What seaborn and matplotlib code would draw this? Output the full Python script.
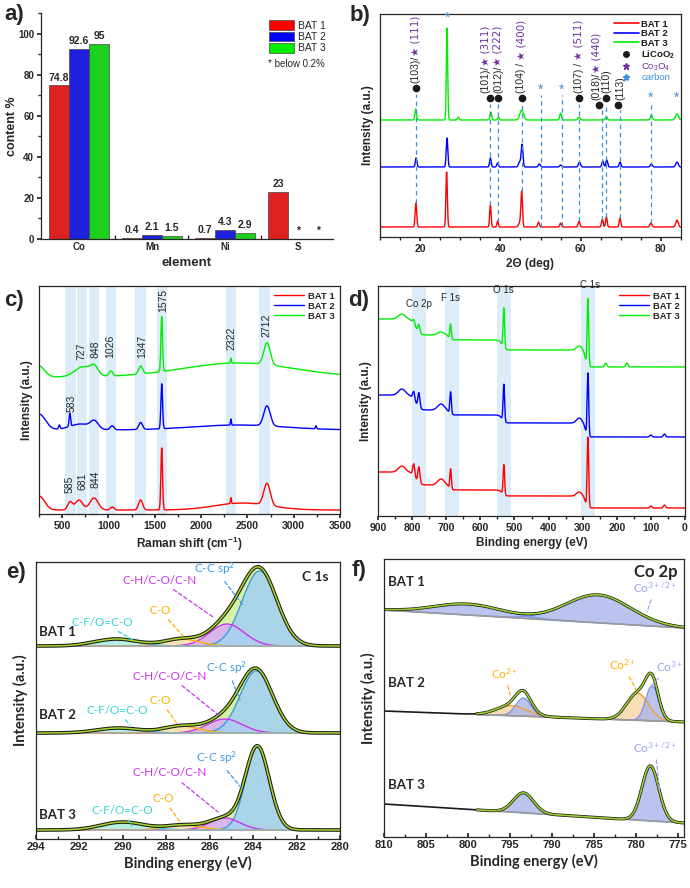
import numpy as np
import pandas as pd
import matplotlib
matplotlib.use('Agg')
import matplotlib.pyplot as plt
import seaborn as sns
from matplotlib.lines import Line2D
from matplotlib.patches import Patch
from matplotlib.ticker import MultipleLocator

# ---------------- data ----------------
samples = ['BAT 1', 'BAT 2', 'BAT 3']
elements = ['Co', 'Mn', 'Ni', 'S']
bat1_content = [74.8, 0.4, 0.7, 23]
bat2_content = [92.6, 2.1, 4.3, 0]
bat3_content = [95, 1.5, 2.9, 0]
bat1_labels = ['74.8', '0.4', '0.7', '23']
bat2_labels = ['92.6', '2.1', '4.3', '*']
bat3_labels = ['95', '1.5', '2.9', '*']

# XRD peaks (2theta, height, width)
xrd_bat1 = [(18.95, 24, .2), (26.6, 55, .18), (37.5, 22, .18), (39.3, 6, .18), (44.8, 4, .3),
            (45.3, 35, .2), (49.5, 5, .2), (55.0, 4, .2), (59.6, 6, .22), (65.4, 8, .2),
            (66.4, 10, .2), (69.8, 9, .2), (77.5, 4, .25), (84.0, 7, .3)]
xrd_bat2 = [(19.0, 9, .2), (26.7, 29, .2), (37.5, 9, .2), (39.3, 4, .2), (44.8, 5, .3),
            (45.4, 22, .22), (49.7, 3, .25), (55.0, 2, .25), (59.7, 5, .25), (65.5, 6, .22),
            (66.5, 7, .22), (69.8, 5, .22), (77.6, 3, .25), (84.0, 5, .3)]
xrd_bat3 = [(18.9, 11, .2), (26.7, 92, .17), (29.5, 3, .2), (37.6, 8, .2), (39.5, 3, .2),
            (45.3, 10, .45), (55.0, 7, .22), (59.6, 3, .25), (66.4, 3, .25), (77.6, 5, .25),
            (84.0, 6, .4)]
xrd_ref_pos = [18.95, 37.5, 39.4, 45.3, 50.0, 55.3, 59.6, 65.3, 66.4, 69.8, 77.6]
xrd_ref_top = [143, 133, 133, 133, 142, 142, 133, 127, 133, 127, 133]
licoo2_pos = [19.0, 37.5, 39.4, 45.3, 59.6, 64.5, 66.3, 69.3]
licoo2_y = [149, 139, 139, 139, 139, 132, 139, 132]
carbon_pos = [26.7, 50.0, 55.2, 77.5, 84.0]
carbon_y = [219, 147, 147, 139, 139]
hkl_pos = [18.9, 36.2, 39.4, 45.2, 59.5, 64.0, 66.3, 69.9]
hkl_y = [154, 144, 144, 144, 144, 137, 144, 137]
hkl_licoo2 = ['(103)/', '(101)/', '(012)/', '(104) / ', '(107) / ', '(018)/', '(110)', '(113)']
hkl_co3o4 = ['\u2605 (111)', '\u2605 (311)', '\u2605 (222)', '\u2605 (400)', '\u2605 (511)',
             '\u2605 (440)', '', '']

# Raman bands (shift, height, width)
raman_bat1 = [(250, 14, 60), (585, 8, 25), (681, 10, 40), (844, 12, 45), (1040, 3, 20),
              (1347, 10, 22), (1575, 62, 9), (2322, 6, 5), (2450, 7, 300), (2712, 22, 35)]
raman_bat2 = [(250, 16, 70), (470, 4, 8), (583, 13, 8), (700, 6, 120), (848, 7, 40),
              (1040, 4, 20), (1347, 7, 20), (1575, 45, 9), (2322, 6, 5), (2400, 5, 500),
              (2712, 20, 35), (3240, 3, 6)]
raman_bat3 = [(250, 11, 60), (727, 10, 90), (848, 8, 40), (1026, 5, 20), (1347, 8, 22),
              (1575, 55, 9), (2322, 5, 5), (2400, 14, 600), (2712, 22, 35)]
raman_bands = [(535, 645), (660, 770), (790, 900), (970, 1080), (1290, 1400),
               (1520, 1630), (2270, 2380), (2630, 2740)]
raman_tags = ['585', '681', '844', '583', '727', '848', '1026', '1347', '1575', '2322', '2712']
raman_tag_x = [585, 722, 855, 603, 711, 855, 1017, 1359, 1586, 2331, 2709]
raman_tag_y = [21, 24, 26, 102, 154, 156, 156, 156, 202, 164, 177]

# XPS survey (BE, height, width) and background steps
survey_bat1 = [(60, 3, 3), (100, 2, 3), (284.5, 70, 2.2), (310, 4, 8), (531, 30, 2.2),
               (687, 20, 2.2), (715, 6, 10), (780, 16, 3), (795, 12, 3), (830, 6, 10)]
survey_bat2 = [(60, 3, 3), (100, 2, 3), (284.5, 63, 2.2), (310, 5, 8), (531, 37, 2.2),
               (687, 22, 2.2), (715, 6, 10), (780, 15, 3), (795, 8, 3), (830, 6, 10)]
survey_bat3 = [(170, 4, 3), (232, 4, 3), (284.5, 67, 2.2), (310, 4, 8), (531, 40, 2.2),
               (687, 15, 2.2), (715, 3, 10), (780, 8, 3), (795, 4, 3), (830, 5, 10)]
steps_bat1 = [(292, 12, 3), (536, 6, 4), (692, 5, 4), (790, 13, 6)]
steps_bat2 = [(292, 14, 3), (536, 8, 4), (692, 5, 4), (790, 15, 6)]
steps_bat3 = [(292, 17, 3), (536, 10, 4), (692, 5, 4), (790, 16, 6)]
survey_bands = [(759, 800), (663, 704), (510, 551), (264, 305)]
survey_tags = ['Co 2p', 'F 1s', 'O 1s', 'C 1s']
survey_tag_x = [780, 686, 533, 278]
survey_tag_y = [207, 213, 221, 226]

# C 1s fit: C-C sp2, C-H/C-O/C-N, C-O, C-F/O=C-O
c1s_names = ['C-C sp$^2$', 'C-H/C-O/C-N', 'C-O', 'C-F/O=C-O']
c1s_bat1 = [(283.7, 75, .8), (285.2, 22, .8), (287.3, 7, .8), (290.3, 7, 1.0)]
c1s_bat2 = [(283.85, 62, .75), (285.3, 14, .8), (287.3, 7, .8), (290.2, 5, 1.0)]
c1s_bat3 = [(283.8, 83, .55), (285.3, 12, .7), (287.2, 5, .8), (290.0, 8, 1.0)]

# Co 2p fit: (BE, height, width, species)
co2p_bat1 = [(800.0, 11, 4.0, 'mix'), (784.5, 28, 3.8, 'mix')]
co2p_bat2 = [(794.8, 10, 1.8, 'Co2'), (793.4, 18, .9, 'Co3'), (779.8, 27, 1.3, 'Co2'),
             (778.1, 35, .75, 'Co3')]
co2p_bat3 = [(793.4, 20, 1.2, 'mix'), (778.3, 55, 1.0, 'mix')]
co2p_bg = [(227, 209), (126, 115), (33, 14)]   # background at 810 and 774.3 eV
co2p_fit_start = [810, 799, 799]

colors = ['#ff0000', '#0000ff', '#00ee00']
purple = '#7030a0'
cblue = '#3a8fd9'


def gauss_sum(x, peaks):
    y = np.zeros_like(x)
    for p in peaks:
        y += p[1] * np.exp(-0.5 * ((x - p[0]) / p[2]) ** 2)
    return y


def steps(x, edges):
    y = np.zeros_like(x)
    for c, h, w in edges:
        y += h / (1 + np.exp(-(x - c) / w))
    return y


sns.set_theme(style='ticks')
plt.rcParams['font.family'] = ['Liberation Sans', 'DejaVu Sans']
plt.rcParams.update({'axes.linewidth': 0.9, 'mathtext.default': 'regular',
                     'xtick.major.size': 3, 'ytick.major.size': 3,
                     'xtick.minor.size': 2, 'ytick.minor.size': 2,
                     'xtick.major.pad': 2, 'ytick.major.pad': 2})
calibri = ['Lato', 'DejaVu Sans']

W, H = 690, 888
fig = plt.figure(figsize=(6.9, 8.88), dpi=100)


def box(l, t, r, b):
    return fig.add_axes([l / W, 1 - b / H, (r - l) / W, (b - t) / H])


def panel_label(x, y, s):
    fig.text(x / W, 1 - y / H, s, fontsize=16, fontweight='bold', va='top', ha='left')


def tick_style(ax, size=7.5):
    for t in ax.get_xticklabels() + ax.get_yticklabels():
        t.set_fontweight('bold')
        t.set_fontsize(size)


# ---------------- a) ----------------
ax = box(41, 13, 333, 239)
df_a = pd.DataFrame({'element': elements * 3,
                     'sample': np.repeat(samples, 4),
                     'content': bat1_content + bat2_content + bat3_content})
sns.barplot(data=df_a, x='element', y='content', hue='sample', palette=colors,
            width=0.82, edgecolor='#444444', linewidth=0.5, ax=ax, legend=False)
for cont, labs in zip(ax.containers, [bat1_labels, bat2_labels, bat3_labels]):
    ax.bar_label(cont, labels=labs, padding=2, fontsize=7.5, fontweight='bold')
ax.set_xlim(-0.52, 3.48)
ax.set_ylim(0, 110)
ax.set_yticks(range(0, 101, 20))
ax.yaxis.set_minor_locator(MultipleLocator(10))
ax.set_xticks([0.5, 1.5, 2.5], minor=True)
ax.tick_params(axis='x', which='major', length=0)
ax.tick_params(axis='x', which='minor', direction='in', length=3)
ax.spines[['top', 'right']].set_visible(False)
ax.set_xlabel('element', fontsize=9.5, fontweight='bold', labelpad=4)
ax.set_ylabel('content %', fontsize=9, fontweight='bold')
ax.yaxis.set_label_coords(-23 / 292, 0.5)
tick_style(ax, 7)
handles = [Patch(fc=c, ec='#444444', lw=0.5, label=s) for c, s in zip(colors, samples)]
ax.legend(handles=handles, loc='upper right', bbox_to_anchor=(1.0, 1.0), frameon=False,
          fontsize=7.5, handlelength=2.4, handleheight=1.0, labelspacing=0.12,
          handletextpad=0.4, borderaxespad=0.3)
ax.text(0.777, 0.775, '* below 0.2%', transform=ax.transAxes, fontsize=7, va='center')
panel_label(4, 4, 'a)')

# ---------------- b) XRD ----------------
ax = box(380, 14, 681, 237)
x = np.linspace(10, 85, 3000)
xrd_offsets = [10, 70, 117]
red_curve = None
for peaks, off, col, lab in zip([xrd_bat1, xrd_bat2, xrd_bat3], xrd_offsets, colors, samples):
    y = gauss_sum(x, peaks) + off
    if red_curve is None:
        red_curve = y
    sns.lineplot(x=x, y=y, color=col, lw=1.0, ax=ax, label=lab, estimator=None, sort=False)
for p, top in zip(xrd_ref_pos, xrd_ref_top):
    ax.vlines(p, np.interp(p, x, red_curve), top, colors=cblue, linestyles=(0, (3.5, 3)), lw=0.9)
ax.plot(licoo2_pos, licoo2_y, 'o', color='k', ms=4.5, ls='none')
for p, yy in zip(carbon_pos, carbon_y):
    ax.text(p, yy, '*', color=cblue, fontsize=10, ha='center', va='center')
for p, yy, a, b in zip(hkl_pos, hkl_y, hkl_licoo2, hkl_co3o4):
    t1 = ax.text(p, yy, a, rotation=90, ha='center', va='bottom', fontsize=7.5)
    if b:
        ax.annotate(b, xy=(0.5, 1.0), xycoords=t1, rotation=90, ha='center', va='bottom',
                    fontsize=7.5, color=purple, family=['DejaVu Sans'])
ax.set_xlim(10, 85)
ax.set_ylim(0, 223)
ax.set_yticks([])
ax.xaxis.set_minor_locator(MultipleLocator(5))
ax.set_xlabel('2\u0398 (deg)', fontsize=8.5, fontweight='bold', labelpad=3)
ax.set_ylabel('Intensity (a.u.)', fontsize=8.5, fontweight='bold', labelpad=4)
tick_style(ax)
h_l = [Line2D([], [], color=c, lw=1.2) for c in colors]
h_l += [Line2D([], [], marker='o', color='k', ls='none', ms=4),
        Line2D([], [], marker='*', color=purple, ls='none', ms=5),
        Line2D([], [], marker='$*$', color=cblue, ls='none', ms=4)]
leg = ax.legend(handles=h_l, labels=samples + ['LiCoO$_2$', 'Co$_3$O$_4$', 'carbon'],
                loc='upper right', frameon=False, handlelength=2.6,
                labelspacing=0.05, handletextpad=0.3, borderaxespad=0.2,
                prop={'weight': 'bold', 'size': 6.8})
for t, c in zip(leg.get_texts(), ['k', 'k', 'k', 'k', purple, cblue]):
    t.set_color(c)
    if c != 'k':
        t.set_fontweight('normal')
panel_label(350, 5, 'b)')

# ---------------- c) Raman ----------------
ax = box(39, 286, 340, 514)
x = np.linspace(250, 3500, 4000)
raman_offsets = [4, 84, 137]
for lo, hi in raman_bands:
    ax.axvspan(lo, hi, color='#dcedf9', lw=0, zorder=0)
for peaks, off, col, lab in zip([raman_bat1, raman_bat2, raman_bat3], raman_offsets, colors, samples):
    sns.lineplot(x=x, y=gauss_sum(x, peaks) + off, color=col, lw=1.0, ax=ax, label=lab,
                 estimator=None, sort=False)
for s, px, py in zip(raman_tags, raman_tag_x, raman_tag_y):
    ax.text(px, py, s, rotation=90, ha='center', va='bottom', fontsize=7.5)
ax.set_xlim(250, 3500)
ax.set_ylim(0, 228)
ax.set_yticks([])
ax.set_xticks(range(500, 3501, 500))
ax.xaxis.set_minor_locator(MultipleLocator(250))
ax.set_xlabel('Raman shift (cm$^{-1}$)', fontsize=8.5, fontweight='bold', labelpad=3)
ax.set_ylabel('Intensity (a.u.)', fontsize=8.5, fontweight='bold', labelpad=4)
tick_style(ax)
ax.legend(loc='upper right', frameon=False, handlelength=3.2, labelspacing=0.1,
          handletextpad=0.4, borderaxespad=0.2, prop={'weight': 'bold', 'size': 6.8})
panel_label(4, 290, 'c)')

# ---------------- d) XPS survey ----------------
ax = box(378, 286, 685, 516)
x = np.linspace(0, 900, 4500)
survey_offsets = [8, 79, 149]
for lo, hi in survey_bands:
    ax.axvspan(lo, hi, color='#dcedf9', lw=0, zorder=0)
for peaks, st, off, col, lab in zip([survey_bat1, survey_bat2, survey_bat3],
                                    [steps_bat1, steps_bat2, steps_bat3],
                                    survey_offsets, colors, samples):
    sns.lineplot(x=x, y=gauss_sum(x, peaks) + steps(x, st) + off, color=col, lw=1.0, ax=ax,
                 label=lab, estimator=None, sort=False)
for s, px, py in zip(survey_tags, survey_tag_x, survey_tag_y):
    ax.text(px, py, s, ha='center', va='bottom', fontsize=7)
ax.set_xlim(900, 0)
ax.set_ylim(0, 230)
ax.set_yticks([])
ax.set_xticks(range(0, 901, 100))
ax.xaxis.set_minor_locator(MultipleLocator(50))
ax.set_xlabel('Binding energy (eV)', fontsize=8.5, fontweight='bold', labelpad=3)
ax.set_ylabel('Intensity (a.u.)', fontsize=8.5, fontweight='bold', labelpad=4)
tick_style(ax)
ax.legend(loc='upper right', frameon=False, handlelength=3.2, labelspacing=0.1,
          handletextpad=0.4, borderaxespad=0.2, prop={'weight': 'bold', 'size': 6.8})
panel_label(348, 290, 'd)')

# ---------------- e) C 1s ----------------
ax = box(36, 562, 340, 839)
x = np.linspace(280, 294, 700)
c1s_offsets = [193, 106, 9]
comp_fill = ['#a6d1f0', '#d9b0f2', '#fbe2b5', '#b4efe9']
comp_line = ['#3a9ae8', '#cc33ee', '#ffb000', '#33d6d6']
for peaks, off in zip([c1s_bat1, c1s_bat2, c1s_bat3], c1s_offsets):
    env = gauss_sum(x, peaks) + off
    ax.fill_between(x, off, env, color='#d4f3a6', lw=0)
    for p, fc in zip(peaks[::-1], comp_fill[::-1]):
        ax.fill_between(x, off, gauss_sum(x, [p]) + off, color=fc, alpha=0.9, lw=0)
    for p, lc in zip(peaks, comp_line):
        ax.plot(x, gauss_sum(x, [p]) + off, color=lc, lw=1.0)
    ax.plot(x, np.full_like(x, off), color='#aaaaaa', lw=1.2)
    ax.plot(x, env, color='k', lw=2.6)
    ax.plot(x, env, color='#a8d62a', lw=1.1)
c1s_tag_xy = [[(285.76, 270), (288.3, 259), (288.3, 229), (290.96, 217)],
              [(285.2, 171), (287.83, 163), (288.29, 139), (290.27, 129)],
              [(285.67, 81), (287.83, 66), (288.15, 41), (290.04, 29)]]
c1s_tip_xy = [[(284.47, 234), (285.85, 222), (287.23, 203), (289.53, 199)],
              [(284.6, 139), (285.6, 124), (287.46, 114), (289.67, 114)],
              [(284.47, 49), (285.62, 27), (287.37, 17), (289.58, 13)]]
for tags, tips in zip(c1s_tag_xy, c1s_tip_xy):
    for name, (tx, ty), tip, lc in zip(c1s_names, tags, tips, comp_line):
        ax.annotate(name, xy=tip, xytext=(tx, ty), ha='center', va='center', fontsize=8.5,
                    color=lc, family=calibri,
                    arrowprops=dict(arrowstyle='-', ls=(0, (3, 2)), color=lc, lw=0.9,
                                    shrinkA=1, shrinkB=0))
for s, ty in zip(samples, [207, 124, 24]):
    ax.text(293.0, ty, s, ha='center', va='center', fontsize=9.5, fontweight='bold', family=calibri)
ax.text(281.15, 262, 'C 1s', ha='center', va='center', fontsize=10, fontweight='bold', family=calibri)
ax.set_xlim(294, 280)
ax.set_ylim(0, 277)
ax.set_yticks([])
ax.set_xticks(range(280, 295, 2))
ax.xaxis.set_minor_locator(MultipleLocator(1))
ax.tick_params(axis='x', which='both', direction='in')
ax.set_xlabel('Binding energy (eV)', fontsize=10.5, fontweight='bold', family=calibri, labelpad=3)
ax.set_ylabel('Intensity (a.u.)', fontsize=10.5, fontweight='bold', family=calibri, labelpad=6)
tick_style(ax, 8)
panel_label(6, 562, 'e)')

# ---------------- f) Co 2p ----------------
ax = box(384, 559, 684, 837)
x = np.linspace(774.3, 810, 800)
spec_fill = {'mix': '#aab6ec', 'Co3': '#aab6ec', 'Co2': '#f7d6a2'}
spec_line = {'mix': '#7f95ea', 'Co3': '#7f95ea', 'Co2': '#f0a030'}
for peaks, (b0, b1), xs in zip([co2p_bat1, co2p_bat2, co2p_bat3], co2p_bg, co2p_fit_start):
    bg = b0 + (b1 - b0) * (810 - x) / (810 - 774.3)
    env = gauss_sum(x, peaks) + bg
    ax.plot(x, env, color='k', lw=1.2)
    m = x <= xs
    for p in peaks:
        comp = gauss_sum(x, [p]) + bg
        ax.fill_between(x[m], bg[m], comp[m], color=spec_fill[p[3]], alpha=0.8, lw=0)
        ax.plot(x[m], comp[m], color=spec_line[p[3]], lw=1.0)
    ax.plot(x[m], bg[m], color='#999999', lw=1.2)
    ax.plot(x[m], env[m], color='k', lw=2.2)
    ax.plot(x[m], env[m], color='#9acd32', lw=1.2)
co_tags = ['Co$^{3+/2+}$', 'Co$^{2+}$', 'Co$^{2+}$', 'Co$^{3+}$', 'Co$^{3+/2+}$']
co_tag_xy = [(777.75, 249), (795.6, 163), (781.56, 172), (776.0, 170), (777.75, 89)]
co_tip_xy = [(778.7, 225), (795.0, 142), (780.0, 147), (778.1, 152), (777.2, 47)]
co_tag_col = ['#9f9ff5', '#ffb000', '#ffb000', '#9f9ff5', '#9f9ff5']
for s, txy, tip, c in zip(co_tags, co_tag_xy, co_tip_xy, co_tag_col):
    ax.annotate(s, xy=tip, xytext=txy, ha='center', va='center', fontsize=8.5, color=c,
                family=calibri,
                arrowprops=dict(arrowstyle='-', ls=(0, (3, 2)), color=c, lw=0.9,
                                shrinkA=1, shrinkB=0))
for s, ty in zip(samples, [255, 154, 52]):
    ax.text(807.3, ty, s, ha='center', va='center', fontsize=9.5, fontweight='bold', family=calibri)
ax.text(777.6, 265, 'Co 2p', ha='center', va='center', fontsize=12, fontweight='bold', family=calibri)
ax.set_xlim(810, 774.3)
ax.set_ylim(0, 278)
ax.set_yticks([])
ax.set_xticks(range(775, 811, 5))
ax.xaxis.set_minor_locator(MultipleLocator(2.5))
ax.tick_params(axis='x', which='both', direction='in')
ax.set_xlabel('Binding energy (eV)', fontsize=10.5, fontweight='bold', family=calibri, labelpad=3)
ax.set_ylabel('Intensity (a.u.)', fontsize=10.5, fontweight='bold', family=calibri, labelpad=6)
tick_style(ax, 8)
panel_label(352, 560, 'f)')

plt.savefig('out.png', dpi=100)
